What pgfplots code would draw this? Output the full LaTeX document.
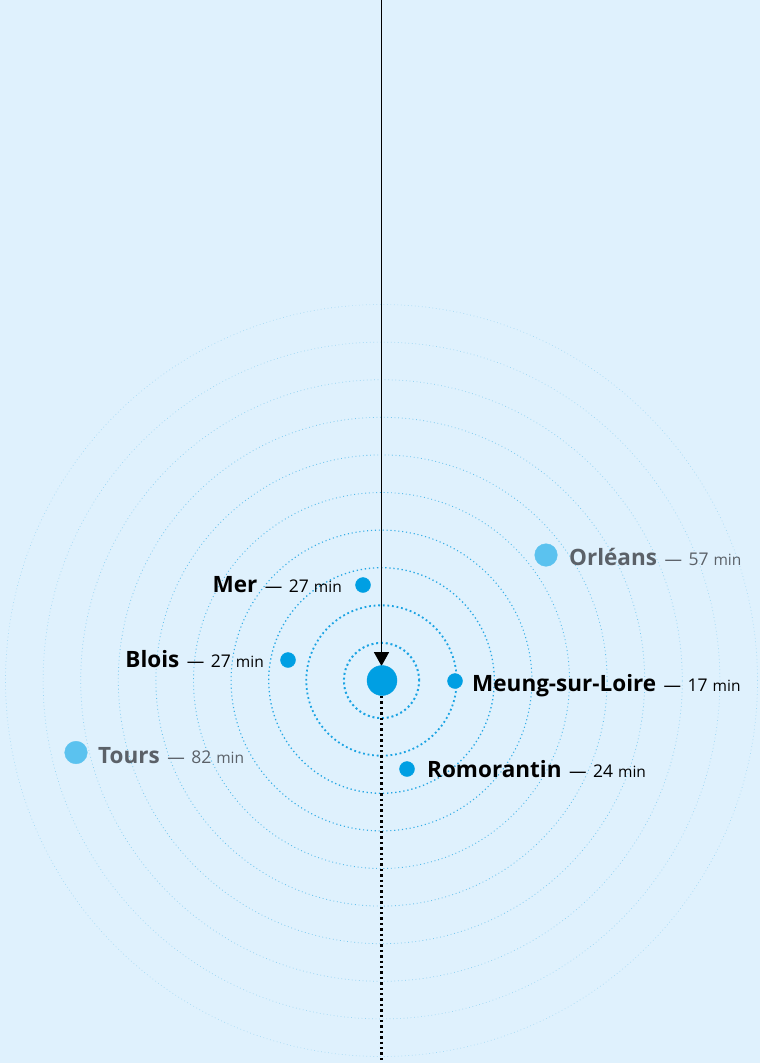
\documentclass[border=0pt]{standalone}
\usepackage{pgfplots}
\pgfplotsset{compat=1.18}
\usepackage{fontspec}
\setmainfont{Open Sans}
\usetikzlibrary{arrows.meta}

\definecolor{bg}{HTML}{DFF1FD}
\definecolor{dotblue}{HTML}{009FE3}
\definecolor{lightdot}{HTML}{5BC2EF}
\definecolor{ring}{HTML}{1AA3E3}
\definecolor{greytext}{HTML}{5B6168}

% name, then "— NN min"
\newcommand{\lab}[2]{\fontsize{22.5}{22.5}\selectfont\textbf{#1}\hspace{7.5pt}{\fontsize{17.5}{17.5}\selectfont —\hspace{6.5pt}#2\hspace{5pt}{\fontsize{15.5}{15.5}\selectfont min}}}

\begin{document}
\begin{tikzpicture}
\begin{axis}[
    width=760pt, height=1063pt,
    scale only axis,
    xmin=0, xmax=760,
    ymin=0, ymax=1063,
    y dir=reverse,
    hide axis,
    clip=true,
]
% background
\fill[bg] (axis cs:0,0) rectangle (axis cs:760,1063);

% rings (every ~37.6 px round the centre)
\foreach \k/\w/\o in {10/0.7/0.3, 9/0.7/0.35, 8/0.75/0.4, 7/0.8/0.5, 6/0.85/0.6, 5/0.9/0.7, 4/1.1/0.85, 3/1.3/0.95, 2/1.8/1.0, 1/2.0/1.0}{
    \edef\temp{\noexpand\draw[ring, draw opacity=\o, line width=\w pt, dash pattern=on \w pt off 2.8pt]
        (axis cs:381.5,680.5) circle [radius=\k*37.6pt];}
    \temp
}

% incoming line and arrow
\addplot[black, line width=1.8pt, -{Triangle[width=15pt,length=14pt]}]
    coordinates {(381.5,0) (381.5,666)};
% outgoing dotted line
\addplot[black, line width=2.4pt, dash pattern=on 2.4pt off 3pt]
    coordinates {(381.5,696) (381.5,1063)};

% far towns
\addplot[only marks, mark=*, mark size=11.3pt, lightdot, mark options={draw=none}]
    coordinates {(546,555) (76,752.5)};
% near towns
\addplot[only marks, mark=*, mark size=7.5pt, dotblue, mark options={draw=none}]
    coordinates {(363,585) (288,660) (455,681) (407,769)};
% centre
\addplot[only marks, mark=*, mark size=15pt, dotblue, mark options={draw=none}]
    coordinates {(382,680.5)};

% labels
\node[anchor=base east, inner sep=0pt, text=black] at (axis cs:342,592) {\lab{Mer}{27}};
\node[anchor=base east, inner sep=0pt, text=black] at (axis cs:264,667) {\lab{Blois}{27}};
\node[anchor=base west, inner sep=0pt, text=black] at (axis cs:472,691) {\lab{Meung-sur-Loire}{17}};
\node[anchor=base west, inner sep=0pt, text=black] at (axis cs:427,777) {\lab{Romorantin}{24}};
\node[anchor=base west, inner sep=0pt, text=greytext] at (axis cs:569,565) {\lab{Orléans}{57}};
\node[anchor=base west, inner sep=0pt, text=greytext] at (axis cs:98,763) {\lab{Tours}{82}};
\end{axis}
\end{tikzpicture}
\end{document}
